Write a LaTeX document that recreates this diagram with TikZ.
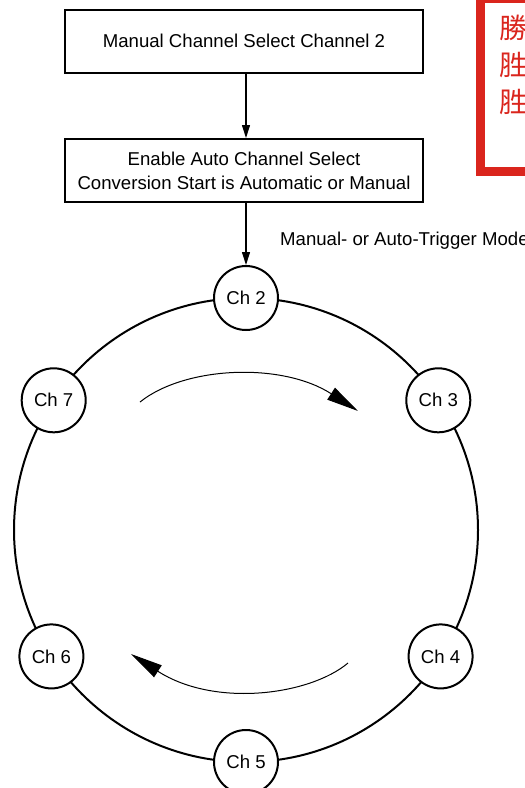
\documentclass[tikz,border=0pt]{standalone}
\usepackage{fontspec}
\setmainfont{Liberation Sans}
\newfontfamily\cjk{Noto Sans CJK TC}
\usetikzlibrary{arrows.meta}
\definecolor{stampred}{RGB}{218,37,29}
\begin{document}
\begin{tikzpicture}[x=1pt,y=-1pt,
  box/.style={draw, line width=2pt, minimum width=358pt, minimum height=63pt, inner sep=0pt, align=center, font=\fontsize{18.6}{24}\selectfont},
  chan/.style={circle, draw, line width=2pt, fill=white, minimum size=64pt, inner sep=0pt, font=\fontsize{18.6}{22}\selectfont},
  flow/.style={line width=1.1pt, -{Triangle[length=13pt,width=8pt]}},
  rot/.style={line width=1pt, -{Triangle[length=32pt,width=14pt]}},
  lbl/.style={font=\fontsize{18.6}{22}\selectfont, inner sep=0pt, anchor=base west},
  stamp/.style={text=stampred, font=\cjk\fontsize{28}{30}\selectfont, inner sep=0pt, anchor=west}]
\useasboundingbox (0,0) rectangle (525,788);

% stamp
\draw[stampred, line width=9pt] (480.5,-1.5) rectangle (545,171);
\node[stamp] (s1) at (499,27.5) {勝};
\node[stamp] (s2) at (499,65) {胜};
\node[stamp] (s3) at (499,102) {胜};

% boxes
\node[box] (box1) at (244,41) {Manual Channel Select Channel 2};
\node[box] (box2) at (244,170.5) {Enable Auto Channel Select\\Conversion Start is Automatic or Manual};

% ring
\coordinate (ctr) at (246,530);
\draw[line width=2pt] (ctr) circle[radius=232];

\node[chan] (ch2) at (246,298) {Ch 2};
\node[chan] (ch3) at (438.3,400.3) {Ch 3};
\node[chan] (ch4) at (440.6,656.4) {Ch 4};
\node[chan] (ch5) at (246,762) {Ch 5};
\node[chan] (ch6) at (51.4,656.4) {Ch 6};
\node[chan] (ch7) at (53.7,400.3) {Ch 7};

% flow arrows
\draw[flow] (box1.south -| ch2.north) -- (box2.north -| ch2.north);
\draw[flow] (box2.south -| ch2.north) -- (ch2.north);
\node[lbl] (trig) at (280,245) {Manual- or Auto-Trigger Mode};

% rotation arrows
\coordinate (a1s) at (140,402);
\coordinate (a1e) at (358,411);
\draw[rot] (a1s) .. controls (185,366) and (282,362) .. (a1e);
\coordinate (a2s) at (348,663);
\coordinate (a2e) at (131,654);
\draw[rot] (a2s) .. controls (310,695) and (215,708) .. (a2e);
\end{tikzpicture}
\end{document}
